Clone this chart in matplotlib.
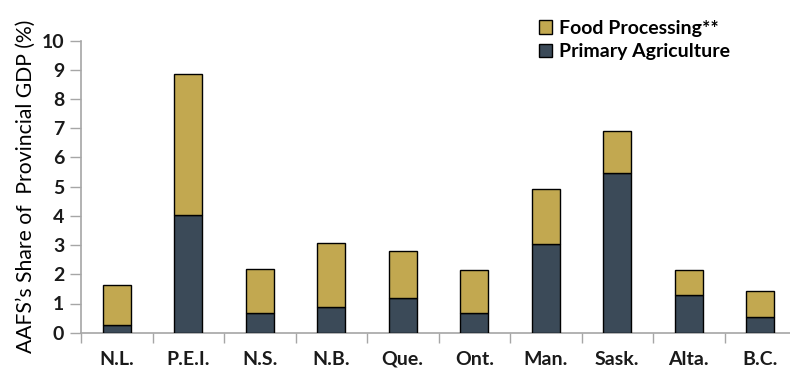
import matplotlib
matplotlib.use("Agg")
import matplotlib.pyplot as plt
import numpy as np

provinces = ["N.L.", "P.E.I.", "N.S.", "N.B.", "Que.", "Ont.", "Man.", "Sask.", "Alta.", "B.C."]
primary_agriculture = [0.27, 4.03, 0.66, 0.88, 1.18, 0.66, 3.03, 5.48, 1.28, 0.53]
food_processing = [1.36, 4.83, 1.53, 2.18, 1.63, 1.49, 1.88, 1.44, 0.87, 0.91]
y_ticks = list(range(0, 11))

DARK = "#3b4a58"
GOLD = "#c2a850"
AXIS_GREY = "#a6a6a6"
FONT = ["Lato", "DejaVu Sans"]

fig = plt.figure(figsize=(7.9, 3.68), dpi=100)
ax = fig.add_axes([81 / 790, 35.3 / 368, 715 / 790, 292 / 368])

x = np.arange(len(provinces))
width = 0.39
b1 = ax.bar(x, primary_agriculture, width, color=DARK, edgecolor="black",
            linewidth=1.0, label="Primary Agriculture", zorder=3)
b2 = ax.bar(x, food_processing, width, bottom=primary_agriculture, color=GOLD,
            edgecolor="black", linewidth=1.0, label="Food Processing**", zorder=3)

ax.set_xlim(-0.5, len(provinces) - 0.5)
ax.set_ylim(0, 10)
ax.set_yticks(y_ticks)
ax.set_yticklabels([str(t) for t in y_ticks], fontsize=14, fontweight="bold",
                   family=FONT, color="#1a1a1a")
ax.set_xticks(x)
ax.set_xticklabels(provinces, fontsize=14, fontweight="bold", family=FONT,
                   color="#1a1a1a")
ax.set_xticks(np.arange(-0.5, len(provinces) + 0.5, 1), minor=True)

ax.tick_params(axis="y", which="major", length=8, width=1, color=AXIS_GREY, pad=4)
ax.tick_params(axis="x", which="major", length=0, pad=13)
ax.tick_params(axis="x", which="minor", length=7, width=1, color=AXIS_GREY)

for side in ["top", "right"]:
    ax.spines[side].set_visible(False)
for side in ["left", "bottom"]:
    ax.spines[side].set_color(AXIS_GREY)
    ax.spines[side].set_linewidth(1.2)

ax.set_ylabel("AAFS\u2019s Share of  Provincial GDP (%)", fontsize=15.2,
              family=FONT, color="black", labelpad=4)

leg = fig.legend(handles=[b2, b1], labels=["Food Processing**", "Primary Agriculture"],
                 loc="upper left", bbox_to_anchor=(525 / 790, 1 - 6 / 368),
                 frameon=False, prop={"family": FONT, "weight": "bold", "size": 14},
                 handlelength=0.7, handleheight=0.7, handletextpad=0.35,
                 labelspacing=0.35, borderpad=0.2)

fig.savefig("out.png", dpi=100)
